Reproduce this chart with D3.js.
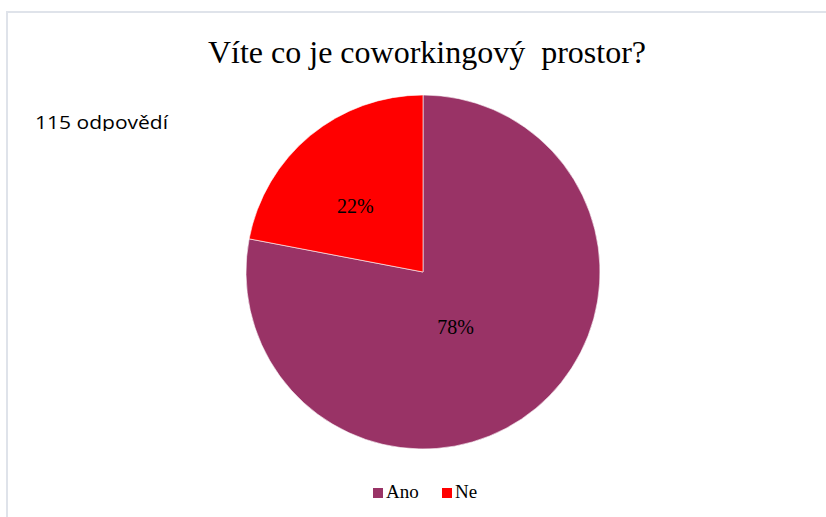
<!DOCTYPE html>
<html>
<head>
<meta charset="utf-8">
<script src="https://cdn.jsdelivr.net/npm/d3@7"></script>
<style>
  html, body { margin: 0; padding: 0; background: #fff; }
  svg { display: block; }
</style>
</head>
<body>
<script>
(function(){
'use strict';

var title = 'Víte co je coworkingový  prostor?';
var subtitle = '115 odpovědí';
var categories = ['Ano', 'Ne'];
var values = [78, 22];
var colors = ['#993366', '#ff0000'];

var width = 826;
var height = 517;
var cx = 423;
var cy = 272;
var radius = 177;
var serif = '"Liberation Serif", "Times New Roman", serif';

var svg = d3.select('body').append('svg')
  .attr('width', width)
  .attr('height', height);

// light frame (top + left only)
svg.append('rect').attr('x', 6).attr('y', 11).attr('width', width - 6).attr('height', 2).attr('fill', '#dfe3ea');
svg.append('rect').attr('x', 6).attr('y', 11).attr('width', 2).attr('height', height - 11).attr('fill', '#dfe3ea');

svg.append('text')
  .attr('x', 427)
  .attr('y', 63)
  .attr('text-anchor', 'middle')
  .style('font-family', serif)
  .style('font-size', '32px')
  .style('white-space', 'pre')
  .attr('fill', '#000')
  .text(title);

svg.append('clipPath').attr('id', 'subclip')
  .append('rect').attr('x', 0).attr('y', 0).attr('width', 300).attr('height', 131);

svg.append('text')
  .attr('x', 35)
  .attr('y', 129)
  .attr('clip-path', 'url(#subclip)')
  .attr('textLength', 133)
  .attr('lengthAdjust', 'spacingAndGlyphs')
  .style('font-family', '"Open Sans", "Liberation Sans", sans-serif')
  .style('font-size', '19px')
  .attr('fill', '#000')
  .text(subtitle);

var data = categories.map(function(c, i){ return {name: c, value: values[i], color: colors[i]}; });

var pie = d3.pie().sort(null).value(function(d){ return d.value; });
var arc = d3.arc().innerRadius(0).outerRadius(radius);
var labelR = [0.36, 0.53];

var g = svg.append('g').attr('transform', 'translate(' + cx + ',' + cy + ')');

var arcs = pie(data);

g.selectAll('path')
  .data(arcs)
  .enter()
  .append('path')
  .attr('d', arc)
  .attr('fill', function(d){ return d.data.color; })
  .attr('stroke', '#fff')
  .attr('stroke-width', 0.6);

var total = d3.sum(values);
// labels sit a little left/down of the slice bisector, like the original
g.selectAll('text.lbl')
  .data(arcs)
  .enter()
  .append('text')
  .attr('class', 'lbl')
  .attr('transform', function(d, i){
    var rr = radius * labelR[i];
    var p = d3.arc().innerRadius(rr).outerRadius(rr).centroid(d);
    return 'translate(' + (p[0] - 8) + ',' + (p[1] + 13) + ')';
  })
  .attr('text-anchor', 'middle')
  .style('font-family', serif)
  .style('font-size', '20px')
  .attr('fill', '#000')
  .text(function(d){ return Math.round(d.data.value / total * 100) + '%'; });

// legend
var legend = svg.append('g').attr('transform', 'translate(373,498)');
var xs = [0, 69];
var items = legend.selectAll('g')
  .data(data)
  .enter()
  .append('g')
  .attr('transform', function(d, i){ return 'translate(' + xs[i] + ',0)'; });

items.append('rect')
  .attr('x', 0).attr('y', -10)
  .attr('width', 10).attr('height', 10)
  .attr('fill', function(d){ return d.color; });

items.append('text')
  .attr('x', 13)
  .attr('y', 0)
  .style('font-family', serif)
  .style('font-size', '19px')
  .attr('fill', '#000')
  .text(function(d){ return d.name; });

})();
</script>
</body>
</html>
